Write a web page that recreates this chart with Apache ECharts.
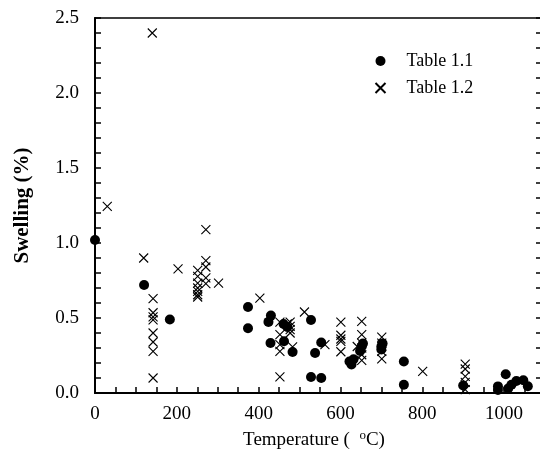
<!DOCTYPE html>
<html>
<head>
<meta charset="utf-8">
<title>Swelling vs Temperature</title>
<script src="https://cdn.jsdelivr.net/npm/echarts@6/dist/echarts.min.js"></script>
<style>
  html, body { margin: 0; padding: 0; background: #fff; }
  #chart { width: 540px; height: 468px; }
</style>
</head>
<body>
<div id="chart"></div>
<script>
// Table 1.1 (filled circles)
var t11Temp  = [0, 120, 183, 374, 374, 430, 424, 429, 461, 462, 470, 483, 528, 528, 553, 538, 553,
                622, 627, 632, 648, 652, 655, 700, 700, 703, 755, 755, 900,
                985, 985, 1004, 1010, 1018, 1030, 1047, 1058];
var t11Swell = [1.02, 0.72, 0.49, 0.573, 0.432, 0.516, 0.474, 0.333, 0.46, 0.345, 0.44, 0.273, 0.487, 0.107, 0.1, 0.267, 0.337,
                0.21, 0.19, 0.225, 0.28, 0.31, 0.33, 0.29, 0.31, 0.33, 0.21, 0.055, 0.05,
                0.044, 0.02, 0.125, 0.03, 0.055, 0.08, 0.085, 0.045];

// Table 1.2 (crosses)
var t12Temp  = [30, 140, 119, 203,
                142, 142, 142, 142, 142, 142, 142, 142,
                251, 251, 251, 251, 251, 251, 251,
                271, 271, 271, 271, 271, 302,
                403, 512,
                452, 452, 452, 452, 452,
                477, 477, 477, 477, 470, 483,
                562,
                601, 601, 601, 601, 601,
                652, 652, 652, 652, 652, 652, 641,
                701, 701, 701, 701, 701,
                801,
                905, 905, 905, 905, 905];
var t12Swell = [1.244, 2.40, 0.90, 0.827,
                0.629, 0.535, 0.507, 0.487, 0.40, 0.34, 0.277, 0.10,
                0.817, 0.777, 0.733, 0.70, 0.677, 0.655, 0.64,
                1.089, 0.882, 0.84, 0.767, 0.729, 0.733,
                0.633, 0.54,
                0.473, 0.389, 0.322, 0.277, 0.107,
                0.473, 0.444, 0.422, 0.40, 0.46, 0.307,
                0.322,
                0.473, 0.385, 0.36, 0.344, 0.275,
                0.477, 0.389, 0.333, 0.30, 0.255, 0.217, 0.31,
                0.373, 0.333, 0.31, 0.277, 0.227,
                0.144,
                0.193, 0.16, 0.111, 0.071, 0.022];

// axis ticks
var xLabels = [0, 200, 400, 600, 800, 1000];
var yLabels = [0.0, 0.5, 1.0, 1.5, 2.0, 2.5];

function pairs(xs, ys) {
  var out = [];
  for (var i = 0; i < xs.length; i++) out.push([xs[i], ys[i]]);
  return out;
}

var serif = 'Liberation Serif';
var crossPath = 'path://M0,0L10,10M10,0L0,10';

var chart = echarts.init(document.getElementById('chart'));
chart.setOption({
  animation: false,
  backgroundColor: '#fff',
  textStyle: { fontFamily: serif, color: '#000' },
  // plot box runs a little past the right edge, like the scan
  grid: {
    left: 95, top: 18, width: 450, bottom: 75,
    outerBoundsMode: 'none',
    show: true, borderColor: '#000', borderWidth: 1.5
  },
  legend: {
    orient: 'vertical',
    left: 368, top: 47,
    itemWidth: 14, itemHeight: 10, itemGap: 9,
    textStyle: { fontFamily: serif, fontSize: 18, color: '#000', padding: [0, 0, 0, 14] },
    data: ['Table 1.1', 'Table 1.2']
  },
  xAxis: {
    type: 'value',
    min: 0, max: 1100, interval: 50,
    name: '{a|Temperature (  }{s|o}{a|C)}',
    nameLocation: 'middle',
    nameGap: 35,
    nameTextStyle: {
      padding: [0, 12, 0, 0],
      rich: {
        a: { fontFamily: serif, fontSize: 19, color: '#000' },
        s: { fontFamily: serif, fontSize: 13, color: '#000', padding: [0, 0, 10, 0] }
      }
    },
    axisLine: { lineStyle: { color: '#000', width: 2 } },
    axisTick: { inside: true, length: 6, lineStyle: { color: '#000', width: 1.5 } },
    axisLabel: {
      fontFamily: serif, fontSize: 19, color: '#000', margin: 12,
      formatter: function (v) { return xLabels.indexOf(v) >= 0 ? String(v) : ''; }
    },
    splitLine: { show: false }
  },
  yAxis: [
    {
      type: 'value',
      min: 0, max: 2.5, interval: 0.1,
      name: 'Swelling (%)',
      nameLocation: 'middle',
      nameGap: 62,
      nameTextStyle: { fontFamily: serif, fontSize: 21, fontWeight: 'bold', color: '#000' },
      axisLine: { lineStyle: { color: '#000', width: 2 } },
      axisTick: { inside: true, length: 6, lineStyle: { color: '#000', width: 1.5 } },
      axisLabel: {
        fontFamily: serif, fontSize: 19, color: '#000', margin: 16,
        formatter: function (v) {
          for (var i = 0; i < yLabels.length; i++) {
            if (Math.abs(yLabels[i] - v) < 1e-6) return yLabels[i].toFixed(1);
          }
          return '';
        }
      },
      splitLine: { show: false }
    },
    {
      type: 'value',
      position: 'right',
      min: 0, max: 2.5, interval: 0.1,
      axisLine: { show: true, lineStyle: { color: '#000', width: 1.5 } },
      axisTick: { inside: true, length: 9, lineStyle: { color: '#000', width: 1.5 } },
      axisLabel: { show: false },
      splitLine: { show: false }
    }
  ],
  series: [
    {
      name: 'Table 1.1',
      type: 'scatter',
      symbol: 'circle',
      symbolSize: 10,
      itemStyle: { color: '#000', opacity: 1 },
      data: pairs(t11Temp, t11Swell)
    },
    {
      name: 'Table 1.2',
      type: 'scatter',
      symbol: crossPath,
      symbolSize: 9,
      itemStyle: { color: 'none', borderColor: '#000', borderWidth: 1.1, opacity: 1 },
      data: pairs(t12Temp, t12Swell)
    }
  ]
});
</script>
</body>
</html>
